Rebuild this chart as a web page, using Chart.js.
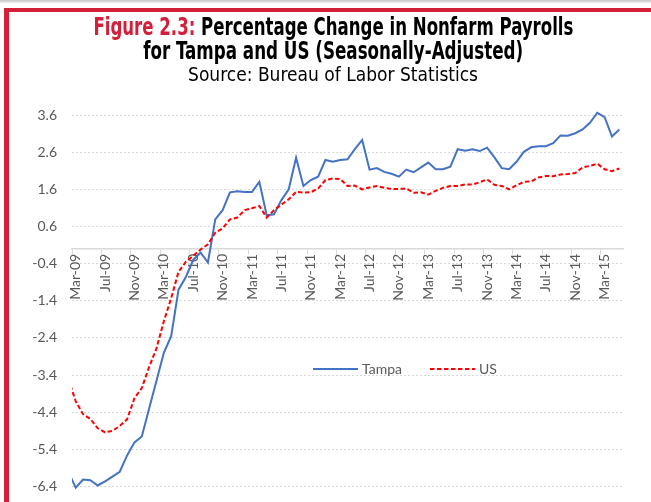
<!DOCTYPE html>
<html>
<head>
<meta charset="utf-8">
<script src="https://cdn.jsdelivr.net/npm/chart.js@4.4.1/dist/chart.umd.min.js"></script>
<style>
  html, body { margin: 0; padding: 0; background: #fff; }
  body { width: 651px; height: 502px; position: relative; overflow: hidden; }
  #shade { position: absolute; left: 0; top: 0; width: 651px; height: 3px; background: linear-gradient(#c4c4c4, #ededed); }
  #frame { position: absolute; left: 4px; top: 8px; width: 700px; height: 600px;
           border-left: 5px solid #d31f3a; border-top: 4px solid #d31f3a; }
  #chartBox { position: absolute; left: 0; top: 0; width: 651px; height: 510px; }
  .tline { position: absolute; left: 0; width: 666px; text-align: center; white-space: nowrap;
           font-family: "Liberation Sans Narrow", "DejaVu Sans Condensed", "Roboto", sans-serif; color: #000; }
  .tline span.fit { display: inline-block; transform-origin: 50% 50%; }
  #t1, #t2 { font-size: 24px; line-height: 24px; font-weight: bold; }
  #t1 { top: 15px; }
  #t2 { top: 39px; }
  #t3 { top: 65px; font-size: 19px; line-height: 19px; }
  .red { color: #d31f3a; }
</style>
</head>
<body>
<div id="shade"></div>
<div id="frame"></div>
<div id="chartBox"><canvas id="payrollChart" width="651" height="510"></canvas></div>
<div class="tline" id="t1"><span class="fit" data-w="480"><span class="red">Figure 2.3:</span> Percentage Change in Nonfarm Payrolls</span></div>
<div class="tline" id="t2"><span class="fit" data-w="380">for Tampa and US (Seasonally-Adjusted)</span></div>
<div class="tline" id="t3"><span class="fit" data-w="290">Source: Bureau of Labor Statistics</span></div>

<script>
// monthly categories (Feb-09 and Jun-15 sit just outside the visible range)
var months = [
  "Feb-09", "Mar-09", "Apr-09", "May-09", "Jun-09", "Jul-09", "Aug-09", "Sep-09", "Oct-09", "Nov-09", "Dec-09",
  "Jan-10", "Feb-10", "Mar-10", "Apr-10", "May-10", "Jun-10", "Jul-10", "Aug-10", "Sep-10", "Oct-10", "Nov-10", "Dec-10",
  "Jan-11", "Feb-11", "Mar-11", "Apr-11", "May-11", "Jun-11", "Jul-11", "Aug-11", "Sep-11", "Oct-11", "Nov-11", "Dec-11",
  "Jan-12", "Feb-12", "Mar-12", "Apr-12", "May-12", "Jun-12", "Jul-12", "Aug-12", "Sep-12", "Oct-12", "Nov-12", "Dec-12",
  "Jan-13", "Feb-13", "Mar-13", "Apr-13", "May-13", "Jun-13", "Jul-13", "Aug-13", "Sep-13", "Oct-13", "Nov-13", "Dec-13",
  "Jan-14", "Feb-14", "Mar-14", "Apr-14", "May-14", "Jun-14", "Jul-14", "Aug-14", "Sep-14", "Oct-14", "Nov-14", "Dec-14",
  "Jan-15", "Feb-15", "Mar-15", "Apr-15", "May-15", "Jun-15"
];

var tampa = [
  -6.0, -6.43, -6.21, -6.23, -6.37, -6.26, -6.13, -6.0, -5.56, -5.21, -5.05,
  -4.3, -3.55, -2.8, -2.35, -1.1, -0.76, -0.3, -0.1, -0.37, 0.79, 1.04, 1.52,
  1.55, 1.53, 1.53, 1.80, 0.90, 0.93, 1.31, 1.60, 2.45, 1.69, 1.85, 1.94,
  2.39, 2.34, 2.39, 2.41, 2.68, 2.93, 2.13, 2.17, 2.07, 2.02, 1.94, 2.13,
  2.06, 2.19, 2.32, 2.14, 2.14, 2.21, 2.68, 2.64, 2.68, 2.63, 2.72, 2.46,
  2.17, 2.14, 2.34, 2.61, 2.73, 2.76, 2.76, 2.84, 3.05, 3.04, 3.11, 3.21,
  3.39, 3.66, 3.54, 3.02, 3.21, 3.45
];

var us = [
  -3.5, -4.1, -4.45, -4.58, -4.83, -4.94, -4.9, -4.77, -4.59, -4.02, -3.75,
  -3.18, -2.68, -1.95, -1.33, -0.62, -0.35, -0.19, -0.02, 0.12, 0.43, 0.55, 0.79,
  0.84, 1.04, 1.09, 1.15, 0.84, 1.04, 1.19, 1.33, 1.53, 1.51, 1.52, 1.62,
  1.85, 1.89, 1.88, 1.69, 1.70, 1.60, 1.65, 1.69, 1.64, 1.61, 1.61, 1.62,
  1.51, 1.52, 1.46, 1.56, 1.64, 1.69, 1.69, 1.73, 1.73, 1.79, 1.87, 1.72,
  1.69, 1.60, 1.71, 1.80, 1.81, 1.92, 1.96, 1.95, 2.00, 2.01, 2.04, 2.19,
  2.23, 2.29, 2.14, 2.09, 2.16, 2.08
];

var tickLabels = ["Mar-09", "Jul-09", "Nov-09", "Mar-10", "Jul-10", "Nov-10", "Mar-11", "Jul-11", "Nov-11",
  "Mar-12", "Jul-12", "Nov-12", "Mar-13", "Jul-13", "Nov-13", "Mar-14", "Jul-14", "Nov-14", "Mar-15"];

var textGrey = "#595959";

/* squeeze the title lines to the width they have in the printed figure */
function fitTitles(){
  var spans = document.querySelectorAll(".fit");
  for (var i = 0; i < spans.length; i++){
    var w = spans[i].getBoundingClientRect().width;
    var target = parseFloat(spans[i].getAttribute("data-w"));
    spans[i].style.transform = "scaleX(" + (target / w) + ")";
  }
}
fitTitles();

/* legend sits inside the plot, like the Excel one */
var insideLegend = {
  id: "insideLegend",
  afterDraw: function(chart){
    var ctx = chart.ctx;
    var x = 313, y = 369;
    ctx.save();
    ctx.font = "14px Lato";
    ctx.textBaseline = "middle";
    chart.data.datasets.forEach(function(ds){
      ctx.beginPath();
      ctx.strokeStyle = ds.borderColor;
      ctx.lineWidth = ds.borderWidth;
      ctx.setLineDash(ds.borderDash || []);
      ctx.moveTo(x, y);
      ctx.lineTo(x + 45, y);
      ctx.stroke();
      ctx.setLineDash([]);
      ctx.fillStyle = textGrey;
      ctx.fillText(ds.label, x + 49, y);
      x += 49 + ctx.measureText(ds.label).width + 28;
    });
    ctx.restore();
  }
};

function isTick(i){
  return tickLabels.indexOf(months[i]) >= 0;
}

var ctxL = document.getElementById("payrollChart").getContext("2d");
var payrollChart = new Chart(ctxL, {
  type: "line",
  data: {
    labels: months,
    datasets: [{
      label: "Tampa",
      data: tampa,
      borderColor: "#4472C4",
      borderWidth: 2,
      pointRadius: 0,
      tension: 0,
      order: 1,
      clip: {left: 0, right: 0, top: 8, bottom: 8}
    }, {
      label: "US",
      data: us,
      borderColor: "#FF0000",
      borderWidth: 2,
      borderDash: [4.5, 2.5],
      pointRadius: 0,
      tension: 0,
      order: 0,
      clip: {left: 0, right: 0, top: 8, bottom: 8}
    }]
  },
  options: {
    responsive: false,
    animation: false,
    layout: { padding: { top: 115, right: 28, bottom: 8, left: 0 } },
    plugins: { legend: { display: false }, tooltip: { enabled: false } },
    scales: {
      x: {
        type: "category",
        min: "Mar-09",
        max: "May-15",
        offset: true,
        position: { y: 0 },
        border: { display: true, color: "#d9d9d9", width: 1.5 },
        grid: {
          offset: true,
          drawOnChartArea: false,
          drawTicks: true,
          tickLength: 5,
          lineWidth: 1,
          color: function(c){
            return (c.tick && isTick(c.tick.value)) ? "#d9d9d9" : "rgba(0,0,0,0)";
          }
        },
        ticks: {
          autoSkip: false,
          minRotation: 90,
          maxRotation: 90,
          padding: 0,
          color: textGrey,
          font: { family: "Lato", size: 14 },
          callback: function(value){
            return isTick(value) ? months[value] : "";
          }
        }
      },
      y: {
        min: -6.4,
        max: 3.6,
        border: { display: false, dash: [2, 2] },
        grid: { color: "#d9d9d9", drawTicks: false, lineWidth: 1 },
        ticks: {
          stepSize: 1,
          padding: 15,
          color: textGrey,
          font: { family: "Lato", size: 14 },
          callback: function(v){ return v.toFixed(1); }
        },
        afterFit: function(scale){ scale.width = 72; }
      }
    }
  },
  plugins: [insideLegend]
});
</script>
</body>
</html>
